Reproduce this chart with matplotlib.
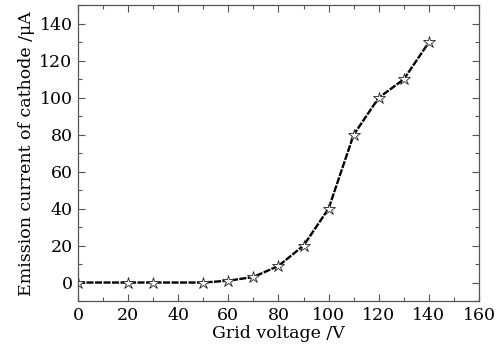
import numpy as np
import matplotlib
matplotlib.use('Agg')
import matplotlib.pyplot as plt
from matplotlib.ticker import MultipleLocator

# grid voltage (V) and cathode emission current (uA)
voltage = [0, 20, 30, 50, 60, 70, 80, 90, 100, 110, 120, 130, 140]
current = [0, 0, 0, 0, 1, 3, 9, 20, 40, 80, 100, 110, 130]

xlabel = 'Grid voltage /V'
ylabel = 'Emission current of cathode /\u03bcA'

plt.rcParams['font.family'] = ['DejaVu Serif']

fig = plt.figure(figsize=(5.01, 3.54), dpi=100)
ax = fig.add_axes([0.1557, 0.1497, 0.8003, 0.835])

ax.plot(voltage, current, color='black', linewidth=1.7, linestyle=(0, (3, 0.6)),
        marker='*', markersize=9, markerfacecolor='white',
        markeredgecolor='#222222', markeredgewidth=0.6)

ax.set_xlim(0, 160)
ax.set_ylim(-10, 150)
ax.xaxis.set_major_locator(MultipleLocator(20))
ax.xaxis.set_minor_locator(MultipleLocator(10))
ax.yaxis.set_major_locator(MultipleLocator(20))
ax.yaxis.set_minor_locator(MultipleLocator(10))
ax.tick_params(which='both', direction='in', top=True, right=True,
               labelsize=12.5, color='#555555', pad=4)
ax.tick_params(which='major', length=5, width=0.8)
ax.tick_params(which='minor', length=3, width=0.8)
for s in ax.spines.values():
    s.set_color('#555555')
    s.set_linewidth(0.9)

ax.set_xlabel(xlabel, fontsize=12.5, labelpad=1)
ax.set_ylabel(ylabel, fontsize=12.5, labelpad=3)

fig.savefig('out.png', dpi=100)
